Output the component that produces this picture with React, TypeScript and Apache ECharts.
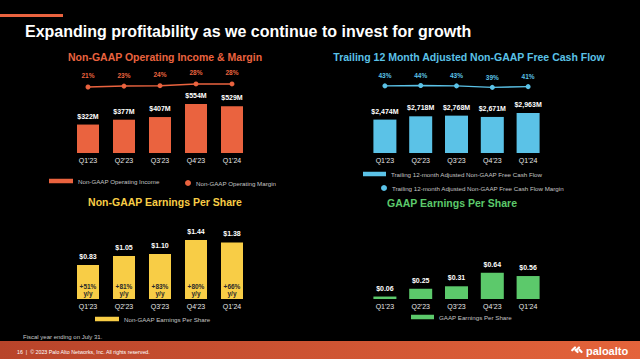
import React, { useEffect, useRef } from "react";
import * as echarts from "echarts";

const categories = ["Q1'23", "Q2'23", "Q3'23", "Q4'23", "Q1'24"];
const opIncome = [322, 377, 407, 554, 529];
const opMargin = [21, 23, 24, 28, 28];
const fcf = [2474, 2718, 2768, 2671, 2963];
const fcfMargin = [43, 44, 43, 39, 41];
const nonGaapEps = [0.83, 1.05, 1.1, 1.44, 1.38];
const nonGaapEpsYoy = [51, 81, 83, 80, 66];
const gaapEps = [0.06, 0.25, 0.31, 0.64, 0.56];

const ORANGE = "#EA633F";
const BLUE = "#5BC2E7";
const YELLOW = "#F8CD46";
const GREEN = "#5CC96B";
const FONT = "'Liberation Sans', Arial, Helvetica, sans-serif";

export default function App() {
  const ref = useRef<HTMLDivElement>(null);

  useEffect(() => {
    if (!ref.current) return;
    const chart = echarts.init(ref.current, undefined, { renderer: "svg" });

    const grids = [
      { left: 70, width: 180, top: 100, height: 53 },
      { left: 70, width: 180, top: 53, height: 43 },
      { left: 367, width: 179, top: 112.5, height: 40.5 },
      { left: 367, width: 179, top: 64.5, height: 37.5 },
      { left: 70, width: 180, top: 237.5, height: 61.5 },
      { left: 367, width: 179, top: 237.5, height: 61.5 },
    ];
    const showX = [true, false, true, false, true, true];
    const yMax = [600, 100, 3000, 100, 1.5, 1.5];

    const xAxis = grids.map((_, i) => ({
      type: "category",
      gridIndex: i,
      data: categories,
      show: showX[i],
      axisLine: { show: false },
      axisTick: { show: false },
      axisLabel: { color: "#e6e6e6", fontSize: 7, fontFamily: FONT, margin: 4 },
    }));
    const yAxis = grids.map((_, i) => ({
      type: "value",
      gridIndex: i,
      show: false,
      min: 0,
      max: yMax[i],
      splitLine: { show: false },
    }));

    const barLabel = (fmt: (v: number) => string) => ({
      show: true,
      position: "top",
      distance: 5,
      color: "#ffffff",
      fontSize: 7,
      fontWeight: "bold",
      fontFamily: FONT,
      formatter: (p: any) => fmt(p.value),
    });

    const legendBase = {
      padding: 0,
      itemGap: 5,
      textStyle: { color: "#c4c4c4", fontSize: 6.2, fontFamily: FONT },
      selectedMode: false,
    };

    const option: any = {
      animation: false,
      backgroundColor: "#000000",
      grid: grids,
      xAxis,
      yAxis,
      legend: [
        { ...legendBase, data: ["Non-GAAP Operating Income"], left: 49, top: 178, icon: "rect", itemWidth: 24, itemHeight: 4.5 },
        { ...legendBase, data: ["Non-GAAP Operating Margin"], left: 185, top: 180, icon: "circle", itemWidth: 6, itemHeight: 6 },
        { ...legendBase, data: ["Trailing 12-month Adjusted Non-GAAP Free Cash Flow"], left: 363, top: 171, icon: "rect", itemWidth: 23, itemHeight: 4.5 },
        { ...legendBase, data: ["Trailing 12-month Adjusted Non-GAAP Free Cash Flow Margin"], left: 381, top: 185, icon: "circle", itemWidth: 6, itemHeight: 6 },
        { ...legendBase, data: ["Non-GAAP Earnings Per Share"], left: 95, top: 316, icon: "rect", itemWidth: 24, itemHeight: 4.5 },
        { ...legendBase, data: ["GAAP Earnings Per Share"], left: 411, top: 314, icon: "rect", itemWidth: 23, itemHeight: 4.5 },
      ],
      series: [
        {
          name: "Non-GAAP Operating Income",
          type: "bar",
          xAxisIndex: 0,
          yAxisIndex: 0,
          data: opIncome,
          barWidth: 22,
          itemStyle: { color: ORANGE },
          label: barLabel((v) => `$${v}M`),
        },
        {
          name: "Non-GAAP Operating Margin",
          type: "line",
          xAxisIndex: 1,
          yAxisIndex: 1,
          data: opMargin,
          symbol: "circle",
          symbolSize: 5,
          lineStyle: { color: ORANGE, width: 1.5 },
          itemStyle: { color: ORANGE },
          label: {
            show: true,
            position: "top",
            distance: 5,
            color: ORANGE,
            fontSize: 6.5,
            fontWeight: "bold",
            fontFamily: FONT,
            formatter: (p: any) => `${p.value}%`,
          },
        },
        {
          name: "Trailing 12-month Adjusted Non-GAAP Free Cash Flow",
          type: "bar",
          xAxisIndex: 2,
          yAxisIndex: 2,
          data: fcf,
          barWidth: 23,
          itemStyle: { color: BLUE },
          label: barLabel((v) => `$${v.toLocaleString("en-US")}M`),
        },
        {
          name: "Trailing 12-month Adjusted Non-GAAP Free Cash Flow Margin",
          type: "line",
          xAxisIndex: 3,
          yAxisIndex: 3,
          data: fcfMargin,
          symbol: "circle",
          symbolSize: 5,
          lineStyle: { color: BLUE, width: 1.5 },
          itemStyle: { color: BLUE },
          label: {
            show: true,
            position: "top",
            distance: 4,
            color: BLUE,
            fontSize: 6.5,
            fontWeight: "bold",
            fontFamily: FONT,
            formatter: (p: any) => `${p.value}%`,
          },
        },
        {
          name: "Non-GAAP Earnings Per Share",
          type: "bar",
          xAxisIndex: 4,
          yAxisIndex: 4,
          data: nonGaapEps,
          barWidth: 22,
          itemStyle: { color: YELLOW },
          label: barLabel((v) => `$${v.toFixed(2)}`),
        },
        {
          name: "yoy",
          type: "bar",
          xAxisIndex: 4,
          yAxisIndex: 4,
          data: nonGaapEps,
          barWidth: 22,
          barGap: "-100%",
          itemStyle: { color: "rgba(0,0,0,0)" },
          label: {
            show: true,
            position: "insideBottom",
            distance: 2,
            color: "#2a2a2a",
            fontSize: 6.5,
            lineHeight: 7,
            fontWeight: "bold",
            fontFamily: FONT,
            formatter: (p: any) => `+${nonGaapEpsYoy[p.dataIndex]}%\ny/y`,
          },
        },
        {
          name: "GAAP Earnings Per Share",
          type: "bar",
          xAxisIndex: 5,
          yAxisIndex: 5,
          data: gaapEps,
          barWidth: 23,
          itemStyle: { color: GREEN },
          label: barLabel((v) => `$${v.toFixed(2)}`),
        },
      ],
      graphic: [
        { type: "rect", shape: { x: 0, y: 14, width: 63, height: 3 }, style: { fill: ORANGE } },
        {
          type: "text",
          x: 25,
          y: 31,
          style: {
            text: "Expanding profitability as we continue to invest for growth",
            fill: "#ffffff",
            font: `bold 16px ${FONT}`,
            verticalAlign: "middle",
          },
        },
        {
          type: "text",
          x: 165,
          y: 57,
          style: { text: "Non-GAAP Operating Income & Margin", fill: ORANGE, font: `bold 10.5px ${FONT}`, align: "center", verticalAlign: "middle" },
        },
        {
          type: "text",
          x: 469,
          y: 57,
          style: { text: "Trailing 12 Month Adjusted Non-GAAP Free Cash Flow", fill: BLUE, font: `bold 10.5px ${FONT}`, align: "center", verticalAlign: "middle" },
        },
        {
          type: "text",
          x: 165,
          y: 202,
          style: { text: "Non-GAAP Earnings Per Share", fill: YELLOW, font: `bold 10.5px ${FONT}`, align: "center", verticalAlign: "middle" },
        },
        {
          type: "text",
          x: 452,
          y: 203,
          style: { text: "GAAP Earnings Per Share", fill: GREEN, font: `bold 10.5px ${FONT}`, align: "center", verticalAlign: "middle" },
        },
        {
          type: "text",
          x: 23,
          y: 337,
          style: { text: "Fiscal year ending on July 31.", fill: "#c8c8c8", font: `6px ${FONT}`, verticalAlign: "middle" },
        },
        {
          type: "rect",
          shape: { x: 0, y: 341, width: 640, height: 18 },
          style: {
            fill: new echarts.graphic.LinearGradient(0, 0, 1, 0, [
              { offset: 0, color: "#B8442A" },
              { offset: 1, color: "#E4643B" },
            ]),
          },
        },
        {
          type: "text",
          x: 17,
          y: 351.5,
          style: {
            text: "16  |  © 2023 Palo Alto Networks, Inc. All rights reserved.",
            fill: "#ffffff",
            font: `5.3px ${FONT}`,
            verticalAlign: "middle",
          },
        },
        {
          type: "group",
          x: 573,
          y: 346,
          children: [
            { type: "rect", x: 2, y: 0, rotation: -0.8, shape: { x: 0, y: 0, width: 2.2, height: 6, r: 1 }, style: { fill: "#ffffff" } },
            { type: "rect", x: 6, y: 0, rotation: -0.8, shape: { x: 0, y: 0, width: 2.2, height: 6, r: 1 }, style: { fill: "#ffffff" } },
            { type: "rect", x: 1, y: 4, rotation: 0.8, shape: { x: 0, y: 0, width: 2.2, height: 5, r: 1 }, style: { fill: "#ffffff" } },
            { type: "rect", x: 5, y: 4, rotation: 0.8, shape: { x: 0, y: 0, width: 2.2, height: 5, r: 1 }, style: { fill: "#ffffff" } },
          ],
        },
        {
          type: "text",
          x: 586,
          y: 350.5,
          style: { text: "paloalto", fill: "#ffffff", font: `bold 11px ${FONT}`, verticalAlign: "middle" },
        },
      ],
    };

    chart.setOption(option);
    return () => chart.dispose();
  }, []);

  return (
    <div
      ref={ref}
      style={{ position: "fixed", left: 0, top: 0, width: 640, height: 359, background: "#000" }}
    />
  );
}
